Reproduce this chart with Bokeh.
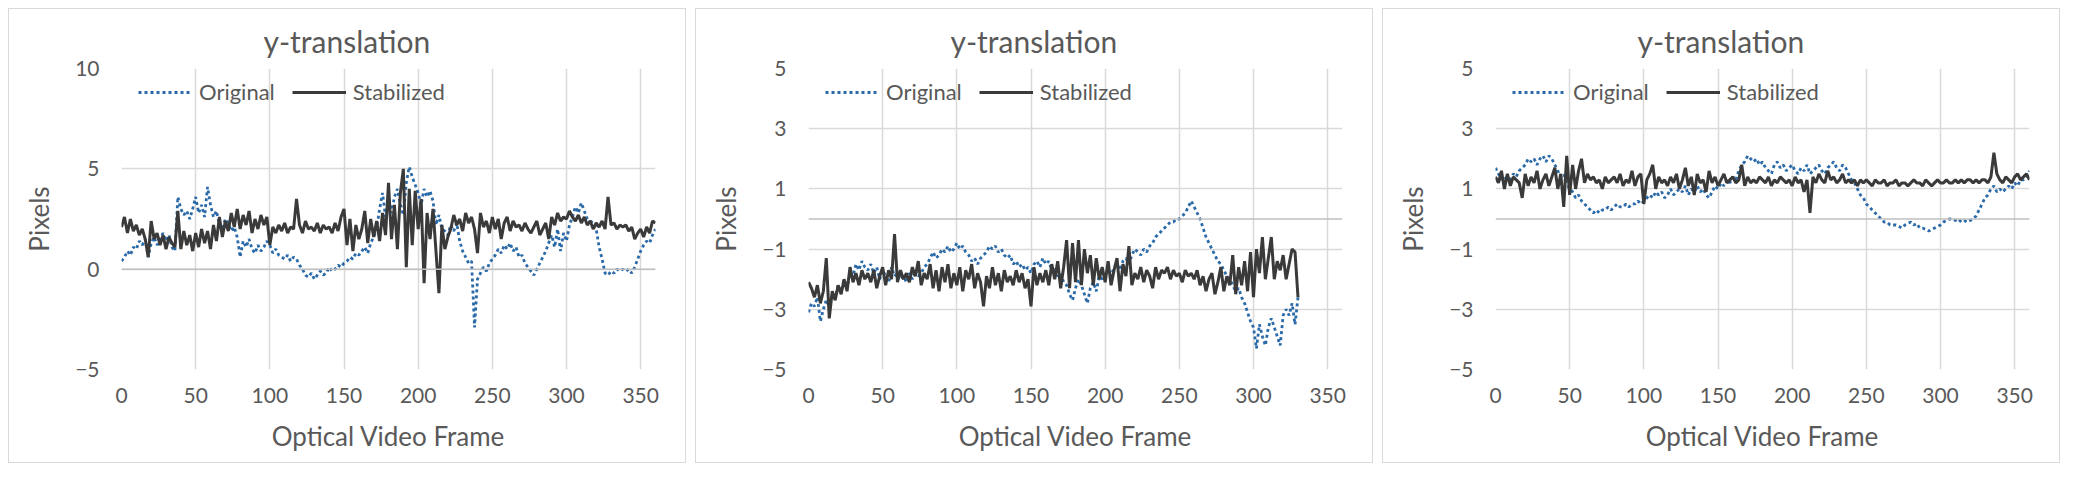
from bokeh.plotting import figure
from bokeh.layouts import row
from bokeh.models import Range1d, FixedTicker, Span, Legend, LegendItem, Title
from bokeh.embed import file_html
from bokeh.resources import INLINE

# ---------------- data ----------------
title_text = "y-translation"
x_title = "Optical Video Frame"
y_title = "Pixels"
series_names = ["Original", "Stabilized"]
x_ticks = [0, 50, 100, 150, 200, 250, 300, 350]
y_ticks_1 = [-5, 0, 5, 10]
y_ticks_23 = [-5, -3, -1, 1, 3, 5]

frames_360 = list(range(0, 361, 2))
frames_330 = list(range(0, 331, 2))

p1_original = [
    0.4, 0.6, 0.9, 0.7, 1.1, 1.0, 1.4, 1.2, 1.5, 0.6,
    1.3, 1.6, 1.2, 1.5, 1.8, 1.4, 1.7, 1.1, 0.9, 3.6,
    3.0, 2.7, 2.9, 2.5, 3.0, 3.6, 2.8, 3.2, 2.6, 4.1,
    3.2, 2.6, 2.9, 2.2, 2.0, 2.5, 2.3, 1.9, 2.1, 1.6,
    0.6, 1.4, 1.1, 1.5, 1.0, 0.8, 1.2, 0.9, 1.1, 1.4,
    1.2, 0.8, 1.0, 0.7, 0.6, 0.5, 0.7, 0.4, 0.6, 0.5,
    0.2, 0.0, -0.3, -0.4, -0.2, -0.5, -0.3, -0.1, -0.3, -0.2,
    0.1, -0.1, 0.0, 0.2, 0.1, 0.3, 0.4, 0.6, 0.5, 0.8,
    0.7, 0.9, 1.1, 0.8, 1.3, 1.6, 2.0, 3.0, 3.8, 2.6,
    3.4, 2.8, 3.6, 4.0, 3.2, 2.7, 4.3, 5.1, 4.6, 4.2,
    3.8, 3.2, 4.0, 3.6, 3.9, 3.4, 2.2, 2.7, 2.0, 1.9,
    1.7, 2.2, 1.9, 2.3, 1.4, 0.9, 0.6, 0.3, 0.4, -2.9,
    -0.5, -0.2, 0.1, -0.1, 0.3, 0.5, 0.7, 1.0, 0.8, 1.2,
    1.0, 1.3, 0.9, 1.1, 0.6, 0.7, 0.3, 0.1, -0.1, -0.3,
    0.0, 0.3, 0.6, 0.9, 1.3, 1.7, 1.1, 2.0, 0.9, 1.8,
    1.4, 2.2, 2.6, 3.1, 2.8, 3.3, 2.9, 2.5, 2.4, 2.3,
    2.0, 1.1, 0.5, -0.2, -0.3, -0.1, -0.2, 0.0, -0.1, 0.0,
    -0.1, 0.0, -0.2, 0.1, 0.5, 0.9, 1.2, 1.4, 1.3, 1.7,
    2.0,
]
p1_stabilized = [
    2.1, 2.6, 1.8, 2.5, 1.9, 2.2, 1.7, 2.0, 1.5, 0.6,
    2.4, 1.5, 1.8, 1.2, 1.7, 1.0, 1.6, 1.3, 1.1, 2.9,
    1.0, 1.9, 1.2, 1.7, 0.9, 1.8, 1.1, 2.0, 1.3, 1.9,
    1.0, 2.2, 1.4, 2.6, 1.6, 2.4, 1.9, 2.8, 2.1, 3.0,
    2.0, 2.7, 2.2, 2.9, 1.8, 2.5, 2.0, 2.7, 2.2, 2.6,
    1.2, 2.1, 1.8, 2.2, 1.9, 2.3, 1.8, 2.1, 2.0, 3.5,
    2.2, 1.8, 2.4, 2.0, 2.1, 1.9, 2.3, 1.8, 2.2, 2.0,
    2.1, 1.8, 2.3, 1.9, 2.6, 3.0, 1.2, 2.5, 0.9, 2.2,
    1.5, 2.0, 2.9, 1.3, 2.5, 1.6, 2.4, 1.4, 2.8, 1.7,
    4.3, 1.5, 3.2, 1.0, 3.8, 5.0, 0.1, 4.0, 1.2, 3.9,
    2.0, 3.5, -0.7, 2.8, 1.5, 3.0, 0.9, -1.2, 2.2, 1.0,
    1.6, 2.0, 2.7, 2.2, 2.5, 1.9, 2.8, 2.3, 2.6, 2.0,
    0.8, 2.8, 2.1, 2.4, 1.8, 2.6, 2.0, 2.5, 1.5, 2.3,
    2.6, 1.9, 2.4, 2.1, 2.2, 1.9, 2.3, 2.0, 1.8, 2.1,
    2.4, 1.7, 2.0, 2.3, 1.5, 2.6, 2.2, 2.8, 2.4, 2.6,
    2.5, 2.9, 2.6, 2.4, 2.7, 2.3, 2.6, 2.2, 2.4, 2.0,
    2.3, 2.1, 2.4, 2.0, 3.6, 2.2, 2.3, 2.0, 2.2, 2.1,
    2.2, 1.9, 2.1, 1.5, 1.8, 2.0, 1.6, 2.1, 1.8, 2.4,
    2.3,
]

p2_original = [
    -3.1, -2.8, -2.9, -2.6, -3.4, -3.0, -2.7, -2.9, -2.5, -2.6,
    -2.2, -2.4, -2.0, -2.3, -1.8, -1.9, -1.5, -1.7, -1.4, -1.6,
    -1.7, -1.5, -1.8, -1.6, -2.0, -1.7, -1.9, -2.1, -1.6, -1.9,
    -1.8, -2.0, -1.9, -2.1, -1.8, -2.0, -1.7, -1.9, -1.8, -1.6,
    -1.5, -1.3, -1.1, -1.3, -1.2, -1.0, -1.1, -0.9, -1.1, -1.0,
    -0.8, -1.0, -0.9, -1.1, -1.2, -1.4, -1.3, -1.5, -1.3, -1.2,
    -1.1, -0.9, -1.0, -0.9, -1.1, -1.0, -1.2, -1.3, -1.2, -1.5,
    -1.4, -1.6, -1.5, -1.7, -1.6, -1.8, -1.5, -1.4, -1.6, -1.3,
    -1.5, -1.4, -1.7, -1.6, -1.9, -1.8, -2.1, -2.2, -2.5, -2.7,
    -2.3, -2.0, -2.2, -2.5, -2.8, -2.3, -2.1, -2.4, -1.9, -2.0,
    -1.8, -1.7, -1.9, -1.6, -1.5, -1.7, -1.4, -1.3, -1.5, -1.2,
    -1.0, -1.1, -1.2, -1.0, -1.1, -0.9, -0.8, -0.6, -0.5, -0.4,
    -0.3, -0.2, -0.1, -0.1, 0.0, 0.0, 0.1, 0.2, 0.4, 0.6,
    0.4, 0.2, 0.0, -0.3, -0.6, -0.8, -1.0, -1.2, -1.4, -1.5,
    -1.7, -1.9, -2.0, -2.2, -2.4, -2.3, -2.6, -2.8, -3.1, -3.4,
    -3.6, -4.3, -3.5, -3.9, -4.2, -3.6, -3.3, -3.6, -3.9, -4.2,
    -3.2, -3.0, -3.2, -2.8, -3.5, -2.6,
]
p2_stabilized = [
    -2.1, -2.3, -2.6, -2.2, -2.8, -2.4, -1.3, -3.3, -2.4, -2.7,
    -2.2, -2.5, -2.0, -2.4, -1.6, -2.1, -1.8, -2.2, -1.7, -2.0,
    -1.8, -2.1, -1.7, -2.3, -1.9, -1.6, -2.2, -1.7, -2.0, -0.5,
    -2.1, -1.7, -2.0, -1.8, -2.1, -1.6, -1.9, -1.4, -2.2, -1.8,
    -2.0, -1.5, -2.3, -1.7, -2.4, -1.6, -2.1, -1.5, -2.3, -1.8,
    -2.2, -1.6, -2.4, -1.7, -2.0, -1.5, -2.3, -1.8, -2.1, -2.9,
    -1.9, -2.3, -1.6, -2.2, -1.8, -2.4, -1.7, -2.1, -1.9, -2.2,
    -1.7, -2.1, -1.8, -2.3, -2.0, -2.9, -1.6, -2.2, -1.8, -2.1,
    -1.7, -2.2, -1.5, -2.0, -1.4, -2.3, -1.6, -0.7, -2.3, -0.8,
    -2.1, -0.7, -2.2, -1.0, -1.8, -1.2, -2.2, -1.3, -2.0, -1.6,
    -2.1, -1.4, -2.2, -1.7, -1.3, -2.4, -1.5, -1.9, -0.9, -2.2,
    -1.8, -2.0, -1.6, -2.1, -1.7, -1.9, -2.3, -1.6, -2.0, -1.7,
    -1.8, -1.6, -2.0, -1.7, -1.9, -1.8, -2.1, -1.7, -1.9, -1.8,
    -2.0, -1.7, -2.2, -1.9, -2.4, -2.0, -1.8, -2.5, -2.1, -1.6,
    -2.4, -1.9, -2.2, -1.2, -2.5, -1.6, -2.2, -1.4, -2.4, -1.1,
    -2.6, -1.0, -1.8, -0.6, -2.0, -1.3, -0.6, -2.0, -1.4, -1.7,
    -1.2, -2.0, -1.5, -1.0, -1.1, -2.6,
]

p3_original = [
    1.7, 1.5, 1.3, 1.4, 1.3, 1.3, 1.5, 1.4, 1.6, 1.7,
    1.8, 2.0, 1.9, 2.0, 1.8, 2.0, 2.1, 1.9, 2.1, 2.0,
    1.8, 1.6, 1.4, 1.5, 1.2, 1.0, 0.9, 0.7, 0.8, 0.6,
    0.5, 0.4, 0.3, 0.2, 0.3, 0.2, 0.3, 0.3, 0.4, 0.3,
    0.4, 0.5, 0.4, 0.4, 0.5, 0.4, 0.5, 0.5, 0.6, 0.5,
    0.6, 0.7, 0.8, 0.7, 0.9, 0.8, 0.9, 0.7, 0.8, 1.0,
    0.8, 0.9, 1.0, 0.9, 1.1, 0.8, 1.0, 0.9, 1.1, 0.9,
    1.0, 0.8, 0.7, 0.9, 1.1, 1.0, 1.2, 1.1, 1.3, 1.2,
    1.4, 1.3, 1.6, 1.8, 1.9, 2.1, 2.0, 1.9, 2.0, 1.8,
    1.9, 1.7, 1.6, 1.5, 1.8, 1.9, 1.7, 1.8, 1.6, 1.7,
    1.8, 1.6, 1.5, 1.7, 1.6, 1.8, 1.5, 1.6, 1.7, 1.8,
    1.6, 1.5, 1.7, 1.8, 1.9, 1.7, 1.6, 1.8, 1.7, 1.5,
    1.3, 1.2, 1.0, 0.8, 0.7, 0.5, 0.4, 0.3, 0.2, 0.1,
    0.0, -0.1, -0.1, -0.2, -0.2, -0.2, -0.25, -0.3, -0.2, -0.15,
    -0.1, -0.2, -0.15, -0.3, -0.3, -0.35, -0.4, -0.35, -0.3, -0.25,
    -0.2, -0.1, -0.05, 0.0, 0.0, -0.05, 0.0, -0.1, -0.05, -0.1,
    -0.05, 0.0, 0.1, 0.3, 0.5, 0.7, 0.8, 1.0, 1.1, 0.9,
    1.0, 0.9, 1.0, 1.1, 1.0, 1.2, 1.1, 1.3, 1.3, 1.4,
    1.6,
]
p3_stabilized = [
    1.4, 1.2, 1.6, 1.0, 1.5, 1.1, 1.4, 1.3, 1.2, 0.7,
    1.5, 1.1, 1.4, 1.2, 1.6, 1.0, 1.3, 1.5, 1.1, 1.4,
    1.7, 1.0, 1.5, 0.4, 2.1, 0.8, 1.8, 1.0, 1.6, 2.0,
    1.2, 1.5, 1.3, 1.4, 1.2, 1.3, 1.0, 1.4, 1.2, 1.3,
    1.4, 1.2, 1.5, 1.1, 1.3, 1.2, 1.6, 1.1, 1.4, 1.5,
    0.5, 1.3, 1.5, 1.8, 1.0, 1.4, 1.2, 1.3, 1.1, 1.4,
    1.2, 1.5, 1.0, 1.3, 1.7, 1.1, 1.4, 0.8, 1.5, 1.2,
    1.3, 0.9, 1.6, 1.2, 1.4, 1.1, 1.3, 1.5, 1.2, 1.3,
    1.4, 1.2, 1.3, 1.8, 1.1, 1.4, 1.2, 1.3, 1.2, 1.4,
    1.3, 1.2, 1.4, 1.1, 1.3, 1.2, 1.4, 1.3, 1.2, 1.3,
    1.1, 1.4, 1.2, 1.3, 0.9, 1.3, 0.2, 1.4, 1.2, 1.5,
    1.3, 1.2, 1.6, 1.3, 1.4, 1.2, 1.3, 1.5, 1.2, 1.3,
    1.2, 1.3, 1.1, 1.3, 1.2, 1.3, 1.2, 1.1, 1.3, 1.2,
    1.2, 1.3, 1.1, 1.2, 1.2, 1.3, 1.1, 1.2, 1.2, 1.1,
    1.2, 1.3, 1.2, 1.2, 1.1, 1.3, 1.2, 1.1, 1.2, 1.3,
    1.2, 1.2, 1.3, 1.2, 1.2, 1.3, 1.2, 1.3, 1.2, 1.3,
    1.3, 1.2, 1.3, 1.2, 1.3, 1.3, 1.2, 1.4, 2.2, 1.5,
    1.3, 1.2, 1.4, 1.3, 1.2, 1.4, 1.5, 1.3, 1.4, 1.5,
    1.3,
]

# ---------------- styling ----------------
FONT = "Lato"
TEXT = "#595959"
GRID = "#d9d9d9"
ZERO = "#bfbfbf"
BLUE = "#2a6aa9"
DARK = "#3a3a3a"

W, H = 678, 455          # canvas size (a 1px CSS border goes round it)
FRAME_W, FRAME_H = 534, 301
LEFT, TOP = 112, 59


def make_panel(orig_x, orig_y, stab_x, stab_y, y_lo, y_hi, yticks):
    p = figure(width=W, height=H, output_backend="svg", toolbar_location=None,
               x_range=Range1d(0, 360), y_range=Range1d(y_lo, y_hi),
               min_border_left=LEFT, min_border_right=W - LEFT - FRAME_W,
               min_border_top=TOP, min_border_bottom=H - TOP - FRAME_H,
               background_fill_color="white", border_fill_color="white",
               outline_line_color=None)
    p.styles = {"border": "1px solid #d9d9d9"}

    p.title = Title(text=title_text, align="left", offset=142, standoff=19,
                    text_font=FONT, text_font_size="30px",
                    text_font_style="normal", text_color=TEXT)

    for ax in (p.xaxis[0], p.yaxis[0]):
        ax.axis_line_color = None
        ax.major_tick_line_color = None
        ax.minor_tick_line_color = None
        ax.major_tick_out = 0
        ax.major_tick_in = 0
        ax.major_label_text_font = FONT
        ax.major_label_text_color = TEXT
        ax.major_label_text_font_size = "21px"
        ax.axis_label_text_font = FONT
        ax.axis_label_text_color = TEXT
        ax.axis_label_text_font_size = "26px"
        ax.axis_label_text_font_style = "normal"

    p.xaxis.ticker = FixedTicker(ticks=x_ticks)
    p.yaxis.ticker = FixedTicker(ticks=yticks)
    p.xaxis.major_label_standoff = 18
    p.yaxis.major_label_standoff = 22
    p.xaxis.axis_label = x_title
    p.yaxis.axis_label = y_title
    p.xaxis.axis_label_standoff = 14
    p.yaxis.axis_label_standoff = 17

    p.xgrid.grid_line_color = GRID
    p.ygrid.grid_line_color = GRID
    p.xgrid.grid_line_width = 1.5
    p.ygrid.grid_line_width = 1.5

    p.add_layout(Span(location=0, dimension="width", line_color=ZERO, line_width=1.5))

    r1 = p.line(orig_x, orig_y, line_color=BLUE, line_width=2.8, line_dash="3 3")
    r2 = p.line(stab_x, stab_y, line_color=DARK, line_width=3.0)

    legend = Legend(items=[LegendItem(label=series_names[0], renderers=[r1]),
                           LegendItem(label=series_names[1], renderers=[r2])],
                    orientation="horizontal", location=(17, 264),
                    padding=0, margin=0, spacing=17, label_standoff=7,
                    glyph_width=54, glyph_height=22, label_height=22,
                    border_line_color=None, background_fill_alpha=0,
                    label_text_font=FONT, label_text_color=TEXT,
                    label_text_font_size="22px")
    p.add_layout(legend, "center")
    return p


p1 = make_panel(frames_360, p1_original, frames_360, p1_stabilized, -5, 10, y_ticks_1)
p2 = make_panel(frames_330, p2_original, frames_330, p2_stabilized, -5, 5, y_ticks_23)
p3 = make_panel(frames_360, p3_original, frames_360, p3_stabilized, -5, 5, y_ticks_23)

layout = row(p1, p2, p3, spacing=9)
layout.margin = (8, 8, 8, 8)

with open("out.html", "w") as f:
    f.write(file_html(layout, INLINE))
